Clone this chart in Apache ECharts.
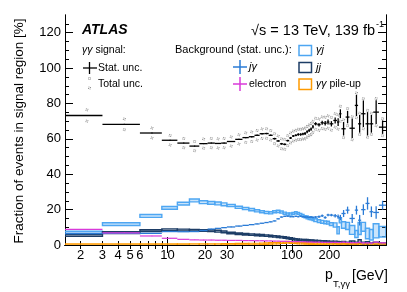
<!DOCTYPE html>
<html><head><meta charset="utf-8">
<script src="https://cdn.jsdelivr.net/npm/echarts/dist/echarts.min.js"></script>
<style>html,body{margin:0;padding:0;background:#fff}#c{width:407px;height:292px}</style>
</head><body><div id="c"></div>
<script>
// ---- data ----
const edges = [1.5,3,6,9,12,15,18,21,24,27,30,35,40,45,50,55,60,65,70,75,80,85,90,95,100,105,110,115,120,125,130,135,140,145,150,160,170,180,190,200,215,230,240,250,270,290,320,340,360,390,420,450,500,570];

const signal = [73.2,68.2,63.3,59.2,57.6,55.9,57.3,57.6,57.4,57.6,
  58.5,59.7,60.7,61.2,62.0,62.9,63.0,62.0,60.1,58.8,
  57.2,56.9,59.0,60.5,61.6,62.0,62.5,62.5,62.8,63.0,
  64.0,64.8,65.5,66.8,68.5,68.0,69.1,68.8,69.5,68.5,
  70.4,69.5,74.2,65.7,72.3,66.0,78.9,68.5,74.2,68.5,
  68.5,75.1,66.6];
const signalStat = [0.3,0.3,0.3,0.3,0.3,0.3,0.3,0.3,0.3,0.3,
  0.3,0.3,0.4,0.4,0.4,0.4,0.4,0.4,0.5,0.5,
  0.5,0.5,0.5,0.6,0.6,0.6,0.7,0.7,0.7,0.8,
  0.8,0.9,0.9,1.0,0.9,1.0,1.1,1.3,1.4,1.5,
  1.7,2.2,2.5,3.8,3.5,5.5,6.0,5.0,7.5,6.6,
  5.0,6.7,3.8];
const signalTotal = [3.2,3.0,2.8,2.7,2.6,2.6,2.6,2.6,2.6,2.6,
  2.6,2.6,2.7,2.7,2.7,2.7,2.7,2.7,2.8,2.8,
  2.8,2.8,2.8,2.8,2.8,2.8,2.9,2.9,2.9,3.0,
  3.0,3.0,3.1,3.1,3.1,3.2,3.3,3.4,3.5,3.6,
  3.8,4.0,4.2,5.0,4.8,6.5,7.0,6.0,8.5,7.6,
  6.0,7.7,4.8];

const gammaJet = [7.0,11.8,16.4,21.0,23.4,25.2,24.2,23.8,23.5,23.0,
  22.3,21.3,20.6,20.0,19.3,18.8,18.4,18.2,18.8,19.0,
  18.6,18.0,17.5,17.5,17.8,18.2,17.8,17.2,16.6,16.0,
  15.6,15.2,15.0,14.6,14.0,13.5,13.1,12.8,12.6,11.8,
  11.3,8.3,14.0,11.3,10.8,8.5,6.2,9.3,10.3,6.5,
  5.8,8.0,7.5];
const gammaJetErr = [0.8,0.8,0.8,0.8,0.8,0.8,0.8,0.8,0.8,0.8,
  0.6,0.6,0.6,0.6,0.6,0.6,0.6,0.6,0.6,0.6,
  0.6,0.6,0.6,0.6,0.6,0.6,0.6,0.6,0.6,0.6,
  0.8,0.8,0.8,0.8,0.8,0.8,0.8,0.8,0.8,0.8,
  1.2,2.0,1.5,1.8,2.0,2.5,2.0,3.4,2.5,3.0,
  3.0,4.0,3.0];

const jetGamma = [6.5,6.6,6.6,7.6,7.5,7.6,8.2,9.0,9.4,9.8,
  10.2,10.7,11.1,11.5,11.9,12.3,12.7,13.1,13.6,14.8,
  15.8,16.2,16.3,16.0,16.0,16.2,16.0,16.2,16.0,15.8,
  15.8,15.6,15.8,15.6,15.8,16.0,16.5,15.5,17.0,16.9,
  16.5,16.0,15.5,17.8,19.7,15.0,19.7,14.0,20.0,23.5,
  18.8,18.4,22.5];
const jetGammaErr = [0.2,0.2,0.2,0.2,0.2,0.2,0.2,0.2,0.2,0.2,
  0.2,0.2,0.2,0.2,0.2,0.2,0.2,0.2,0.2,0.2,
  0.3,0.3,0.3,0.3,0.3,0.3,0.3,0.4,0.4,0.4,
  0.4,0.4,0.5,0.5,0.5,0.7,0.7,0.7,0.7,0.7,
  1.0,1.2,1.5,2.0,2.0,2.5,2.5,3.0,3.0,3.5,
  3.0,3.5,2.5];

const dijet = [5.4,7.0,8.1,8.6,8.5,8.3,8.2,8.1,7.8,7.4,
  6.9,6.5,6.2,6.0,5.8,5.6,5.4,5.2,5.0,4.8,
  4.6,4.4,4.1,3.8,3.5,3.3,3.1,3.0,2.9,2.8,
  2.8,2.7,2.6,2.5,2.4,2.3,2.2,2.1,2.0,1.8,
  1.6,1.5,1.2,1.4,1.0,1.5,0.8,2.0,0.8,1.0,
  0.5,0.8,0.5];
const dijetErr = [0.5,0.5,0.5,0.5,0.5,0.5,0.5,0.5,0.5,0.5,
  0.3,0.3,0.3,0.3,0.3,0.3,0.3,0.3,0.3,0.3,
  0.3,0.3,0.3,0.3,0.3,0.3,0.3,0.3,0.3,0.3,
  0.3,0.3,0.3,0.3,0.3,0.3,0.3,0.3,0.3,0.3,
  0.5,0.5,0.6,0.6,0.6,0.8,0.8,1.0,0.8,0.8,
  0.6,0.8,0.6];

const electron = [8.8,6.9,5.1,3.8,3.2,2.9,2.8,2.8,2.7,2.7,
  2.6,2.6,2.5,2.5,2.4,2.4,2.3,2.3,2.2,2.2,
  2.1,2.1,2.0,2.0,1.9,1.9,1.9,1.8,1.8,1.8,
  1.7,1.7,1.7,1.6,1.6,1.6,1.5,1.5,1.5,1.5,
  1.5,1.4,1.4,1.6,1.4,1.3,1.3,1.5,1.2,1.2,
  1.1,1.6,1.2];
const electronErr = [0.1,0.1,0.1,0.1,0.1,0.1,0.1,0.1,0.1,0.1,
  0.1,0.1,0.1,0.1,0.1,0.1,0.1,0.1,0.1,0.1,
  0.1,0.1,0.1,0.1,0.1,0.1,0.1,0.1,0.1,0.1,
  0.2,0.2,0.2,0.2,0.2,0.2,0.2,0.2,0.2,0.2,
  0.3,0.3,0.3,0.3,0.3,0.3,0.3,0.3,0.3,0.3,
  0.3,0.3,0.3];

const pileup = [0.4,0.4,0.4,0.4,0.4,0.5,0.5,0.5,0.5,0.6,
  0.6,0.7,0.7,0.8,0.8,0.9,1.0,1.1,1.2,1.3,
  1.5,1.6,1.8,1.6,1.5,1.4,1.3,1.2,1.2,1.1,
  1.1,1.0,1.0,1.0,1.0,0.9,0.9,0.9,0.8,0.8,
  0.8,0.7,0.7,0.7,0.6,0.6,0.6,0.5,0.5,0.5,
  0.5,0.5,0.5];
const pileupErr = edges.slice(1).map(() => 0.2);

const xLabels = [2,3,4,5,6,10,20,30,100,200];
const xMajorTicks = [10,100];
const xMinorTicks = [2,3,4,5,6,7,8,9,20,30,40,50,60,70,80,90,200,300,400,500];
const yLabels = [0,20,40,60,80,100,120];
const yMinorTicks = [5,10,15,25,30,35,45,50,55,65,70,75,85,90,95,105,110,115,125];

// ---- chart ----
const X_MIN = 1.5, X_MAX = 570, Y_MIN = 0, Y_MAX = 130;
const lx = v => Math.log10(Math.max(v, 1e-3));
const FONT = '"Liberation Sans", Arial, Helvetica, sans-serif';

function binData(vals) { return vals.map((v, i) => [lx((edges[i] + edges[i + 1]) / 2), v]); }

function capShape(p) {
  return {type: 'rect', shape: {x: p[0] - 1, y: p[1] - 1, width: 2, height: 2},
    style: {stroke: '#666', fill: 'none', lineWidth: 0.7, lineDash: [1, 1]}};
}
function crossRender(vals, errs, color, lw, totals) {
  return function (params, api) {
    const i = params.dataIndex;
    const cx = lx((edges[i] + edges[i + 1]) / 2);
    const a = api.coord([lx(edges[i]), vals[i]]);
    const b = api.coord([lx(edges[i + 1]), vals[i]]);
    const t = api.coord([cx, vals[i] + errs[i]]);
    const d = api.coord([cx, vals[i] - errs[i]]);
    const ch = [
      {type: 'line', shape: {x1: a[0], y1: a[1], x2: b[0], y2: b[1]}, style: {stroke: color, lineWidth: lw}},
      {type: 'line', shape: {x1: t[0], y1: t[1], x2: d[0], y2: d[1]}, style: {stroke: color, lineWidth: lw}}
    ];
    if (totals) {
      ch.push(capShape(api.coord([cx, vals[i] + totals[i]])));
      ch.push(capShape(api.coord([cx, vals[i] - totals[i]])));
    }
    return {type: 'group', children: ch};
  };
}
function boxRender(vals, errs, color, fill, lw) {
  return function (params, api) {
    const i = params.dataIndex;
    const p1 = api.coord([lx(edges[i]), vals[i] + errs[i]]);
    const p2 = api.coord([lx(edges[i + 1]), vals[i] - errs[i]]);
    return {type: 'rect', shape: {x: p1[0], y: p1[1], width: p2[0] - p1[0], height: Math.max(p2[1] - p1[1], 1.5)},
      style: {stroke: color, fill: fill, lineWidth: lw}};
  };
}
function series(vals, render) {
  return {type: 'custom', coordinateSystem: 'cartesian2d', xAxisIndex: 0, yAxisIndex: 0, clip: true, silent: true,
    animation: false, data: binData(vals), encode: {x: 0, y: 1}, renderItem: render};
}

const axLine = {show: true, lineStyle: {color: '#000', width: 1}};
function xAx(pos, ticks, len, labels) {
  return {type: 'value', position: pos, min: lx(X_MIN), max: lx(X_MAX), splitLine: {show: false}, axisLine: axLine,
    axisTick: {show: true, inside: true, length: len, customValues: ticks.map(lx), lineStyle: {color: '#000'}},
    axisLabel: labels ? {show: true, customValues: labels.map(lx), formatter: v => String(Math.round(Math.pow(10, v))),
      fontSize: 13, color: '#000', fontFamily: FONT, margin: 4} : {show: false}};
}
function yAx(pos, ticks, len, labels) {
  return {type: 'value', position: pos, min: Y_MIN, max: Y_MAX, splitLine: {show: false}, axisLine: axLine,
    axisTick: {show: true, inside: true, length: len, customValues: ticks, lineStyle: {color: '#000'}},
    axisLabel: labels ? {show: true, customValues: labels, fontSize: 13, color: '#000', fontFamily: FONT, margin: 4} : {show: false}};
}

const C_GJ = '#4ea6f2', C_JG = '#2a7bd6', C_JJ = '#1d3d66', C_EL = '#d93ad9', C_PU = '#ff9a00';

function txt(x, y, text, size, extra) {
  return Object.assign({type: 'text', x: x, y: y, silent: true,
    style: Object.assign({text: text, fill: '#000', fontSize: size, fontFamily: FONT, align: 'left', verticalAlign: 'middle'}, extra || {})});
}
function gl(x1, y1, x2, y2, c, w) { return {type: 'line', silent: true, shape: {x1, y1, x2, y2}, style: {stroke: c, lineWidth: w}}; }
function gbox(x, y, w, h, c) { return {type: 'rect', silent: true, shape: {x, y, width: w, height: h}, style: {stroke: c, fill: '#fff', lineWidth: 1.5}}; }
function gcap(x, y) { return {type: 'rect', silent: true, shape: {x: x - 1, y: y - 1, width: 2, height: 2}, style: {stroke: '#666', fill: 'none', lineWidth: 0.7, lineDash: [1, 1]}}; }

const graphic = [
  {type: 'text', x: 19, y: 131, rotation: Math.PI / 2, silent: true,
    style: {text: 'Fraction of events in signal region [%]', fill: '#000', fontSize: 13.5, fontFamily: FONT, align: 'center', verticalAlign: 'middle'}},
  txt(325, 275, 'p', 14),
  txt(333, 284, 'T,γγ', 9.5),
  txt(352, 276, '[GeV]', 14),
  txt(82, 30, 'ATLAS', 14, {fontWeight: 'bold', fontStyle: 'italic'}),
  txt(375, 31, '√s = 13 TeV, 139 fb', 14.5, {align: 'right'}),
  txt(376, 25, '-1', 9),
  txt(82, 50, '{i|γγ} signal:', 10.5, {rich: {i: {fontStyle: 'italic', fontSize: 10.5, fontFamily: FONT}}}),
  txt(175, 50, 'Background (stat. unc.):', 11),
  gl(83, 68, 97, 68, '#000', 1.3), gl(89.5, 62, 89.5, 74, '#000', 1.3),
  txt(98, 68, 'Stat. unc.', 10.5),
  gcap(89.5, 78.5), gcap(89.5, 88),
  txt(98, 84, 'Total unc.', 10.5),
  gl(233, 67, 247, 67, C_JG, 1.5), gl(240, 60, 240, 74, C_JG, 1.5),
  txt(249, 67, 'jγ', 11, {fontStyle: 'italic'}),
  gl(233, 84, 247, 84, C_EL, 1.5), gl(240, 77, 240, 91, C_EL, 1.5),
  txt(249, 84, 'electron', 10.5),
  gbox(299, 45.5, 12.5, 10, C_GJ), txt(316, 50, 'γj', 11, {fontStyle: 'italic'}),
  gbox(299, 62.5, 12.5, 10, C_JJ), txt(316, 67.5, 'jj', 11, {fontStyle: 'italic'}),
  gbox(299, 79, 12.5, 10.5, C_PU), txt(316, 84, '{i|γγ} pile-up', 10.5, {rich: {i: {fontStyle: 'italic', fontSize: 10.5, fontFamily: FONT}}})
];

const option = {
  animation: false,
  backgroundColor: '#fff',
  grid: {left: 65, right: 21, top: 15, bottom: 47, containLabel: false},
  xAxis: [
    xAx('bottom', xMajorTicks, 8, xLabels),
    xAx('bottom', xMinorTicks, 4, null),
    xAx('top', xMajorTicks, 8, null),
    xAx('top', xMinorTicks, 4, null)
  ],
  yAxis: [
    yAx('left', yLabels, 8, yLabels),
    yAx('left', yMinorTicks, 4, null),
    yAx('right', yLabels, 8, null),
    yAx('right', yMinorTicks, 4, null)
  ],
  series: [
    series(gammaJet, boxRender(gammaJet, gammaJetErr, C_GJ, 'rgba(78,166,242,0.3)', 1.4)),
    series(dijet, boxRender(dijet, dijetErr, C_JJ, 'rgba(29,61,102,0.3)', 1.4)),
    series(pileup, boxRender(pileup, pileupErr, C_PU, 'rgba(255,154,0,0.3)', 1.2)),
    series(jetGamma, crossRender(jetGamma, jetGammaErr, C_JG, 1.3)),
    series(electron, crossRender(electron, electronErr, C_EL, 1.2)),
    series(signal, crossRender(signal, signalStat, '#000', 1.3, signalTotal))
  ],
  graphic: graphic
};
const chart = echarts.init(document.getElementById('c'), null, {renderer: 'canvas'});
chart.setOption(option);
</script>
</body></html>
